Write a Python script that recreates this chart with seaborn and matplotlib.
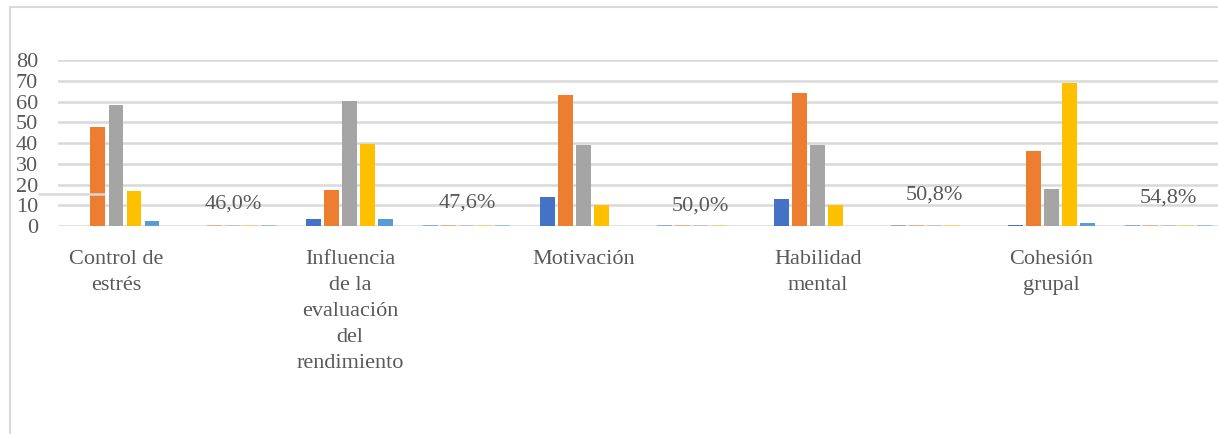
import matplotlib
matplotlib.use("Agg")
import matplotlib.pyplot as plt
import seaborn as sns
import pandas as pd
from matplotlib.patches import Rectangle
from matplotlib.lines import Line2D

# ---------------- data ----------------
slots = ["Control de estrés", "g46", "Influencia", "g47", "Motivación",
         "g50", "Habilidad mental", "g508", "Cohesión grupal", "g548"]
tick_labels = ["Control de\nestrés", "",
               "Influencia\nde la\nevaluación\ndel\nrendimiento", "",
               "Motivación", "", "Habilidad\nmental", "", "Cohesión\ngrupal", ""]
series = ["Serie 1", "Serie 2", "Serie 3", "Serie 4", "Serie 5"]
serie1 = [0.0, 0.0, 3.2, 0.6, 13.8, 0.6, 12.9, 0.6, 0.6, 0.6]
serie2 = [47.6, 0.6, 17.5, 0.6, 63.1, 0.6, 64.1, 0.6, 36.1, 0.6]
serie3 = [58.3, 0.6, 60.3, 0.6, 39.0, 0.6, 39.0, 0.6, 17.8, 0.6]
serie4 = [16.9, 0.6, 39.7, 0.6, 10.1, 0.6, 10.1, 0.6, 68.9, 0.6]
serie5 = [2.4, 0.6, 3.2, 0.6, 0.0, 0.0, 0.0, 0.0, 1.3, 0.6]
pct_slots = [1, 3, 5, 7, 9]
pct_labels = ["46,0%", "47,6%", "50,0%", "50,8%", "54,8%"]

# ---------------- layout / style ----------------
label_y = [10.6, 11.1, 9.6, 14.9, 13.5]
colors = ["#4472C4", "#ED7D31", "#A5A5A5", "#FFC000", "#5B9BD5"]
text_color = "#595959"
grid_color = "#D9D9D9"
font = "Liberation Serif"

rows = []
for s, vals in zip(series, [serie1, serie2, serie3, serie4, serie5]):
    for slot, v in zip(slots, vals):
        rows.append({"slot": slot, "serie": s, "valor": v})
df = pd.DataFrame(rows)

sns.set_theme(style="white")
plt.rcParams["font.family"] = [font, "DejaVu Serif"]

W, H = 1218, 434
fig = plt.figure(figsize=(W / 100, H / 100), dpi=100)
left = 57.5 / W
right = 1227 / W
bottom = 1 - 226 / H
top = 1 - 60 / H
ax = fig.add_axes([left, bottom, right - left, top - bottom])

sns.barplot(data=df, x="slot", y="valor", hue="serie", order=slots,
            hue_order=series, palette=colors, width=0.77, gap=0.17,
            ax=ax, legend=False, saturation=1)

# fade the small groups
for cont in ax.containers:
    for i, bar in enumerate(cont):
        bar.set_edgecolor("none")
        if i in pct_slots:
            bar.set_alpha(0.5)

ax.set_ylim(0, 80)
ax.set_xlim(-0.5, len(slots) - 0.5)
ax.set_yticks(range(0, 81, 10))
ax.yaxis.grid(True, color=grid_color, linewidth=1.8)
ax.set_axisbelow(True)
for sp in ax.spines.values():
    sp.set_visible(False)
ax.set_xlabel("")
ax.set_ylabel("")
ax.set_xticks(range(len(slots)))
ax.set_xticklabels(tick_labels, fontsize=16, color=text_color,
                   linespacing=1.5, va="top")
ax.tick_params(axis="x", length=0, pad=17)
ax.tick_params(axis="y", length=0, pad=14, labelsize=16, labelcolor=text_color)
for lab in ax.get_yticklabels():
    lab.set_fontfamily(font)

for sl, txt, yy in zip(pct_slots, pct_labels, label_y):
    ax.text(sl, yy, txt, ha="center", va="center", fontsize=16,
            color=text_color, family=font)

# chart frame
fig.add_artist(Rectangle((10 / W, -0.1), 1.2, (1 - 7 / H) + 0.1,
                         transform=fig.transFigure, fill=False,
                         edgecolor=grid_color, linewidth=1.5))
# stray short line at left
fig.add_artist(Line2D([39 / W, 104 / W], [1 - 194 / H, 1 - 194 / H],
                      transform=fig.transFigure, color=grid_color,
                      linewidth=1.8))

fig.savefig("out.png", dpi=100)
